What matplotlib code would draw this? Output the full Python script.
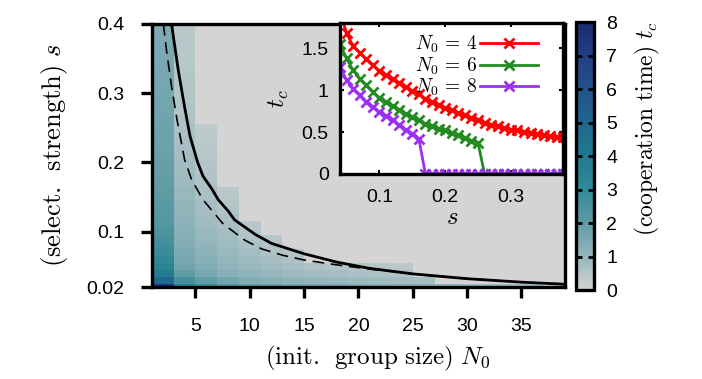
import numpy as np
import matplotlib.pyplot as plt
from matplotlib.colors import LinearSegmentedColormap

plt.rcParams['font.family'] = ['Liberation Sans', 'DejaVu Sans']
plt.rcParams['mathtext.fontset'] = 'cm'

# grid of the heat map
N0_vals = [2, 4, 6, 8, 10, 12, 14, 16, 18, 20, 22, 24, 26, 28, 30, 32, 34, 36, 38]
s_vals = [0.02, 0.03, 0.04, 0.05, 0.06, 0.07, 0.08, 0.09, 0.10, 0.11, 0.12, 0.13,
          0.14, 0.15, 0.16, 0.17, 0.18, 0.19, 0.20, 0.21, 0.22, 0.23, 0.24, 0.25,
          0.26, 0.27, 0.28, 0.29, 0.30, 0.31, 0.32, 0.33, 0.34, 0.35, 0.36, 0.37,
          0.38, 0.39, 0.40]

# inset curves, s = 0.04 ... 0.38
s_inset = s_vals[2:37]
tc_N4 = [1.95, 1.68, 1.53, 1.45, 1.37, 1.30, 1.23, 1.18, 1.13, 1.09, 1.04, 0.99,
         0.95, 0.90, 0.86, 0.82, 0.79, 0.76, 0.73, 0.70, 0.67, 0.64, 0.61, 0.59,
         0.57, 0.55, 0.53, 0.52, 0.50, 0.49, 0.48, 0.46, 0.45, 0.44, 0.44]
tc_N6 = [1.55, 1.38, 1.24, 1.14, 1.06, 0.98, 0.91, 0.86, 0.81, 0.77, 0.72, 0.68,
         0.64, 0.60, 0.57, 0.54, 0.52, 0.49, 0.46, 0.43, 0.40, 0.37, 0, 0,
         0, 0, 0, 0, 0, 0, 0, 0, 0, 0, 0]
tc_N8 = [1.28, 1.12, 1.02, 0.94, 0.86, 0.80, 0.74, 0.69, 0.64, 0.58, 0.53, 0.48,
         0.42, 0, 0, 0, 0, 0, 0, 0, 0, 0, 0, 0,
         0, 0, 0, 0, 0, 0, 0, 0, 0, 0, 0]

# heat map columns (values from s=0.02 upwards, rest is zero)
col_N2 = [7.6, 4.9, 3.9, 3.4, 3.1, 2.9, 2.7, 2.55, 2.4, 2.3, 2.2, 2.15, 2.1, 2.05,
          2.0, 1.95, 1.9, 1.87, 1.85, 1.82, 1.79, 1.76, 1.73, 1.71, 1.69, 1.67,
          1.65, 1.63, 1.61, 1.59, 1.57, 1.55, 1.53, 1.51, 1.49, 1.47, 1.45, 1.43, 1.41]
col_N4 = [3.6, 2.6] + tc_N4 + [0.43, 0.42]
col_N6 = [2.7, 1.95] + tc_N6[:22]
col_N8 = [2.2, 1.6] + tc_N8[:13]
col_N10 = [1.9, 1.35, 1.1, 0.95, 0.85, 0.75, 0.66, 0.58, 0.51, 0.45]
col_N12 = [1.75, 1.25, 1.0, 0.84, 0.72, 0.62, 0.54, 0.47]
col_N14 = [1.6, 1.12, 0.88, 0.72, 0.6, 0.5]
col_N16 = [1.5, 1.02, 0.8, 0.62]
col_N18 = [1.42, 0.96, 0.72, 0.55]
col_N20 = [1.35, 0.9, 0.66, 0.5]
col_N22 = [1.28, 0.85, 0.6, 0.46]
col_N24 = [1.22, 0.8, 0.56, 0.42]
col_N26 = [1.15, 0.72]
col_N28 = [1.05]
col_N30 = [0.98]
col_N32 = [0.9]
col_N34 = [0.82]
col_N36 = [0.74]
col_N38 = []
columns = [col_N2, col_N4, col_N6, col_N8, col_N10, col_N12, col_N14, col_N16,
           col_N18, col_N20, col_N22, col_N24, col_N26, col_N28, col_N30, col_N32,
           col_N34, col_N36, col_N38]

# black curves
solid_N0 = [2.8, 3.4, 4.0, 4.5, 5.2, 5.7, 6.5, 7.1, 8.0, 8.6, 10.5, 12, 15, 18, 21, 25, 30, 35, 39]
solid_s = [0.40, 0.335, 0.28, 0.238, 0.20, 0.18, 0.162, 0.146, 0.13, 0.117, 0.096,
           0.083, 0.068, 0.056, 0.047, 0.039, 0.032, 0.027, 0.024]
dash_N0 = [2.05, 2.35, 2.8, 3.3, 4.0, 4.65, 5.7, 7.5, 9.5, 11.1, 13, 15, 18, 21, 25, 30, 35, 39]
dash_s = [0.40, 0.36, 0.31, 0.262, 0.204, 0.175, 0.146, 0.112, 0.088, 0.075, 0.066,
          0.059, 0.052, 0.046, 0.039, 0.032, 0.027, 0.024]

Z = np.zeros((len(s_vals), len(N0_vals)))
for j, col in enumerate(columns):
    Z[:len(col), j] = col

cmap = LinearSegmentedColormap.from_list('tc', [
    (0.0, '#d4d4d4'), (1/8, '#94b6bc'), (2/8, '#5f9ba5'), (3/8, '#338a97'),
    (4/8, '#1f7b8e'), (5/8, '#20668f'), (6/8, '#23528b'), (7/8, '#233f84'),
    (1.0, '#1c2b70')])

fig = plt.figure(figsize=(7.02, 3.79), dpi=100)
ax = fig.add_axes([0.2165, 0.2427, 0.5883, 0.694])

x_edges = np.arange(1, 40, 2)
y_edges = np.append(np.array(s_vals) - 0.005, s_vals[-1] + 0.005)
mesh = ax.pcolormesh(x_edges, y_edges, Z, cmap=cmap, vmin=0, vmax=8)
ax.plot(solid_N0, solid_s, color='black', lw=2.0)
ax.plot(dash_N0, dash_s, color='black', lw=1.2, ls=(0, (7, 4)))
ax.set_xlim(1, 39)
ax.set_ylim(0.02, 0.40)
ax.set_xticks([5, 10, 15, 20, 25, 30, 35])
ax.set_yticks([0.02, 0.1, 0.2, 0.3, 0.4])
ax.set_yticklabels(['0.02', '0.1', '0.2', '0.3', '0.4'])
ax.tick_params(direction='out', length=8, width=2.4, labelsize=14)
ax.tick_params(axis='x', pad=14)
ax.tick_params(axis='y', pad=12)
for sp in ax.spines.values():
    sp.set_linewidth(2.4)
ax.set_xlabel(r'$\mathrm{(init.\ \,group\ size)}\ N_0$', fontsize=18)
ax.xaxis.set_label_coords(0.547, -0.215)
ax.set_ylabel(r'$\mathrm{(select.\ \,strength)}\ s$', fontsize=19, labelpad=12)

# colour bar
cax = fig.add_axes([0.8205, 0.2348, 0.0256, 0.707])
cb = fig.colorbar(mesh, cax=cax, ticks=range(9))
cb.outline.set_linewidth(2.4)
cax.yaxis.set_ticks_position('both')
cax.tick_params(direction='in', length=4, width=2, labelsize=14, pad=9,
                labelleft=False, labelright=True)
fig.text(647 / 702, 1 - 129 / 379, r'$\mathrm{(cooperation\ time)}\ t_c$',
         fontsize=17, rotation=90, ha='center', va='center')

# inset
ins = fig.add_axes([0.4843, 0.5409, 0.3184, 0.3976])
ins.set_facecolor('white')
ins.plot(s_inset, tc_N4, color='#ff0000', marker='x', ms=7, mew=2, lw=2,
         label=r'$N_0\,=\,4$')
ins.plot(s_inset, tc_N6, color='#228b22', marker='x', ms=7, mew=2, lw=2,
         label=r'$N_0\,=\,6$')
ins.plot(s_inset, tc_N8, color='#9b30f0', marker='x', ms=7, mew=2, lw=2,
         label=r'$N_0\,=\,8$')
ins.set_xlim(0.04, 0.38)
ins.set_ylim(0, 1.8)
ins.set_xticks([0.1, 0.2, 0.3])
ins.set_yticks([0, 0.5, 1, 1.5])
ins.set_yticklabels(['0', '0.5', '1', '1.5'])
ins.tick_params(direction='in', length=3, width=1.5, labelsize=14,
                top=True, right=True)
ins.tick_params(axis='x', pad=11)
ins.tick_params(axis='y', pad=8)
for sp in ins.spines.values():
    sp.set_linewidth(2.4)
ins.set_xlabel(r'$s$', fontsize=18, labelpad=-1)
ins.set_ylabel(r'$t_c$', fontsize=18, labelpad=8)
ins.legend(loc='upper right', bbox_to_anchor=(0.92, 0.98), frameon=False,
           markerfirst=False, fontsize=14, handlelength=3.0, labelspacing=0.0,
           borderaxespad=0.0, handletextpad=0.1)

fig.savefig('out.png', dpi=100)
